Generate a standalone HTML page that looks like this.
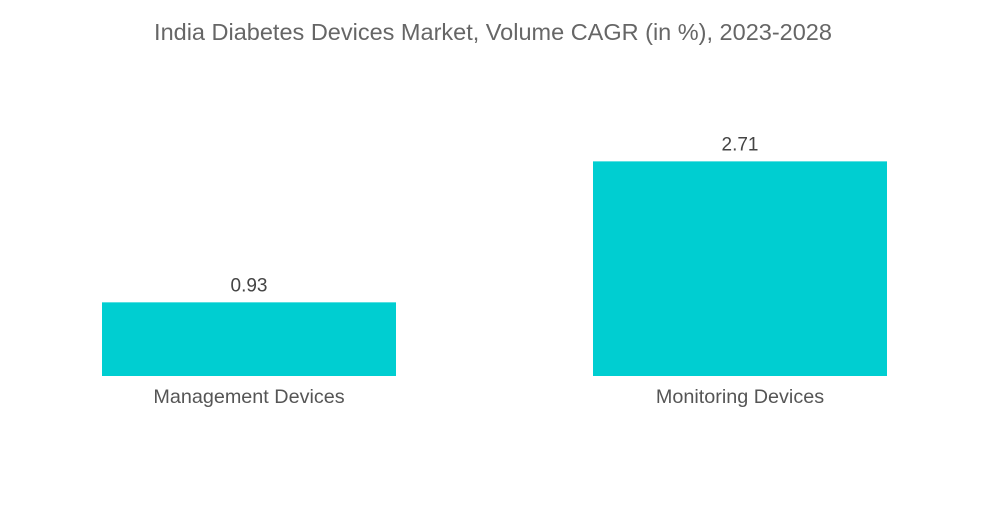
<!DOCTYPE html>
<html>
<head>
<meta charset="utf-8">
<style>
  html, body { margin: 0; padding: 0; background: #fff; }
  body { width: 1000px; height: 504px; overflow: hidden; font-family: "Liberation Sans", sans-serif; }
  svg text { font-family: "Liberation Sans", sans-serif; }
</style>
</head>
<body>
<svg id="chart" width="1000" height="504" viewBox="0 0 1000 504" xmlns="http://www.w3.org/2000/svg">
  <text x="493" y="40" text-anchor="middle" font-size="23.5" fill="#666">India Diabetes Devices Market, Volume CAGR (in %), 2023-2028</text>
  <g id="bars"></g>
</svg>
<script>
const categories = ["Management Devices", "Monitoring Devices"];
const values = [0.93, 2.71];
const valueLabels = ["0.93", "2.71"];

const baseline = 376;
const pxPerUnit = 79.2;
const barLeft = [102, 593];
const barWidth = 294;
function yScale(v) { return baseline - v * pxPerUnit; }

const svgNS = "http://www.w3.org/2000/svg";
const g = document.getElementById("bars");
categories.forEach((cat, i) => {
  const x = barLeft[i];
  const y = yScale(values[i]);
  const rect = document.createElementNS(svgNS, "rect");
  
  
  rect.setAttribute("x", x);
  rect.setAttribute("y", y);
  rect.setAttribute("width", barWidth);
  rect.setAttribute("height", baseline - y);
  rect.setAttribute("fill", "#00ced1");
  g.appendChild(rect);

  const vt = document.createElementNS(svgNS, "text");
  
  
  vt.setAttribute("x", x + barWidth / 2);
  vt.setAttribute("y", y - 11);
  vt.setAttribute("text-anchor", "middle");
  vt.setAttribute("font-size", "19");
  vt.setAttribute("fill", "#444");
  vt.textContent = valueLabels[i];
  g.appendChild(vt);

  const ct = document.createElementNS(svgNS, "text");
  
  
  ct.setAttribute("x", x + barWidth / 2);
  ct.setAttribute("y", 403);
  ct.setAttribute("text-anchor", "middle");
  ct.setAttribute("font-size", "19.8");
  ct.setAttribute("fill", "#555");
  ct.textContent = cat;
  g.appendChild(ct);
});
</script>
</body>
</html>
